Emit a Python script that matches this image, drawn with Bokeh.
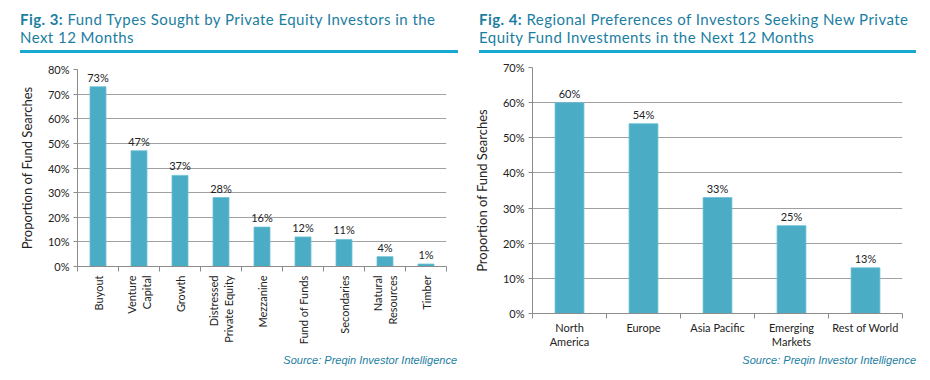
import math
from bokeh.plotting import figure
from bokeh.models import Range1d, FixedTicker, NumeralTickFormatter, Div, ColumnDataSource
from bokeh.layouts import row, column
from bokeh.core.properties import value
from bokeh.embed import file_html
from bokeh.resources import INLINE

# ---- data ----
fund_types = ["Buyout", "Venture\nCapital", "Growth", "Distressed\nPrivate Equity", "Mezzanine",
              "Fund of Funds", "Secondaries", "Natural\nResources", "Timber"]
fund_pct = [73, 47, 37, 28, 16, 12, 11, 4, 1]

regions = ["North\nAmerica", "Europe", "Asia Pacific", "Emerging\nMarkets", "Rest of World"]
region_pct = [60, 54, 33, 25, 13]

title3_bold = "Fig. 3:"
title3_rest = "Fund Types Sought by Private Equity Investors in the<br>Next 12 Months"
title4_bold = "Fig. 4:"
title4_rest = "Regional Preferences of Investors Seeking New Private<br>Equity Fund Investments in the Next 12 Months"
source_text = "Source: Preqin Investor Intelligence"
y_label = "Proportion of Fund Searches"

BAR = "#4bacc6"
TEAL = "#1b7ea1"
LINE = "#18a9d2"
FONT = "Lato"
GRID = "#a0a0a0"
AXIS = "#8c8c8c"
COL_W = 464


def make_fig(cats, vals, ymax, h, bl, br, bt, bb, rotate):
    n = len(cats)
    xs = [i + 1 for i in range(n)]
    src = ColumnDataSource(dict(x=xs, top=[v / 100 for v in vals], label=[f"{v}%" for v in vals]))
    p = figure(width=COL_W, height=h, x_range=Range1d(0.5, n + 0.5), y_range=Range1d(0, ymax),
               output_backend="svg", toolbar_location=None,
               min_border_left=bl, min_border_right=br, min_border_top=bt, min_border_bottom=bb)
    p.outline_line_color = None
    p.xgrid.grid_line_color = None
    p.ygrid.grid_line_color = GRID
    p.ygrid.grid_line_width = 1
    p.vbar(x="x", top="top", width=0.39, fill_color=BAR, line_color="#6cc0d6", line_width=0.8, source=src)
    p.text(x="x", y="top", text="label", source=src, text_align="center", text_baseline="bottom",
           y_offset=-3, text_font_size="11px", text_font=value(FONT), text_color="#222222")

    p.yaxis.ticker = FixedTicker(ticks=[i / 10 for i in range(int(round(ymax * 10)) + 1)])
    p.yaxis.formatter = NumeralTickFormatter(format="0%")
    p.yaxis.axis_label = y_label
    p.yaxis.axis_label_text_font = FONT
    p.yaxis.axis_label_text_font_size = "13px"
    p.yaxis.axis_label_text_font_style = "normal"
    p.yaxis.axis_label_text_color = "#222222"
    p.yaxis.axis_label_standoff = 10

    p.xaxis.ticker = FixedTicker(ticks=xs, minor_ticks=[i + 0.5 for i in range(n + 1)])
    p.xaxis.major_label_overrides = {x: c for x, c in zip(xs, cats)}
    p.xaxis.major_tick_out = 0
    p.xaxis.major_tick_in = 0
    p.xaxis.minor_tick_out = 5
    p.xaxis.minor_tick_in = 0
    p.xaxis.major_label_standoff = 4
    if rotate:
        p.xaxis.major_label_orientation = math.pi / 2
    else:
        p.xaxis.major_label_standoff = 2
        p.xaxis.major_label_text_line_height = 1.1

    for ax in (p.xaxis, p.yaxis):
        ax.axis_line_color = AXIS
        ax.major_tick_line_color = AXIS
        ax.minor_tick_line_color = AXIS
        ax.major_label_text_font = FONT
        ax.major_label_text_font_size = "11px"
        ax.major_label_text_color = "#222222"
    p.yaxis.minor_tick_line_color = None
    p.yaxis.major_tick_out = 4
    p.yaxis.major_tick_in = 0
    p.yaxis.major_label_standoff = 4
    return p


def title_div(bold, rest, ml, w):
    html = (f'<div style="margin-left:{ml}px;margin-top:10px;width:{w}px;border-bottom:3px solid {LINE};'
            f'padding-bottom:4px;font-family:{FONT};font-size:15px;letter-spacing:0.45px;line-height:18px;'
            f'color:{TEAL};"><span style="font-weight:bold">{bold}</span> {rest}</div>')
    return Div(text=html, width=COL_W, height=53, margin=0)


def source_div(w, mt):
    html = (f'<div style="margin-top:{mt}px;width:{w}px;text-align:right;font-family:\'Liberation Sans\';'
            f'font-style:italic;font-size:11px;line-height:12px;color:{TEAL};">{source_text}</div>')
    return Div(text=html, width=COL_W, height=20, margin=0)


p1 = make_fig(fund_types, fund_pct, 0.8, 297, 77, 18, 16, 84, True)
p2 = make_fig(regions, region_pct, 0.7, 297, 68, 26, 14, 37, False)

layout = row(
    column(title_div(title3_bold, title3_rest, 20, 438), p1, source_div(457, 4)),
    column(title_div(title4_bold, title4_rest, 15, 437), p2, source_div(452, 4)),
)

open("out.html", "w").write(file_html(layout, INLINE))
